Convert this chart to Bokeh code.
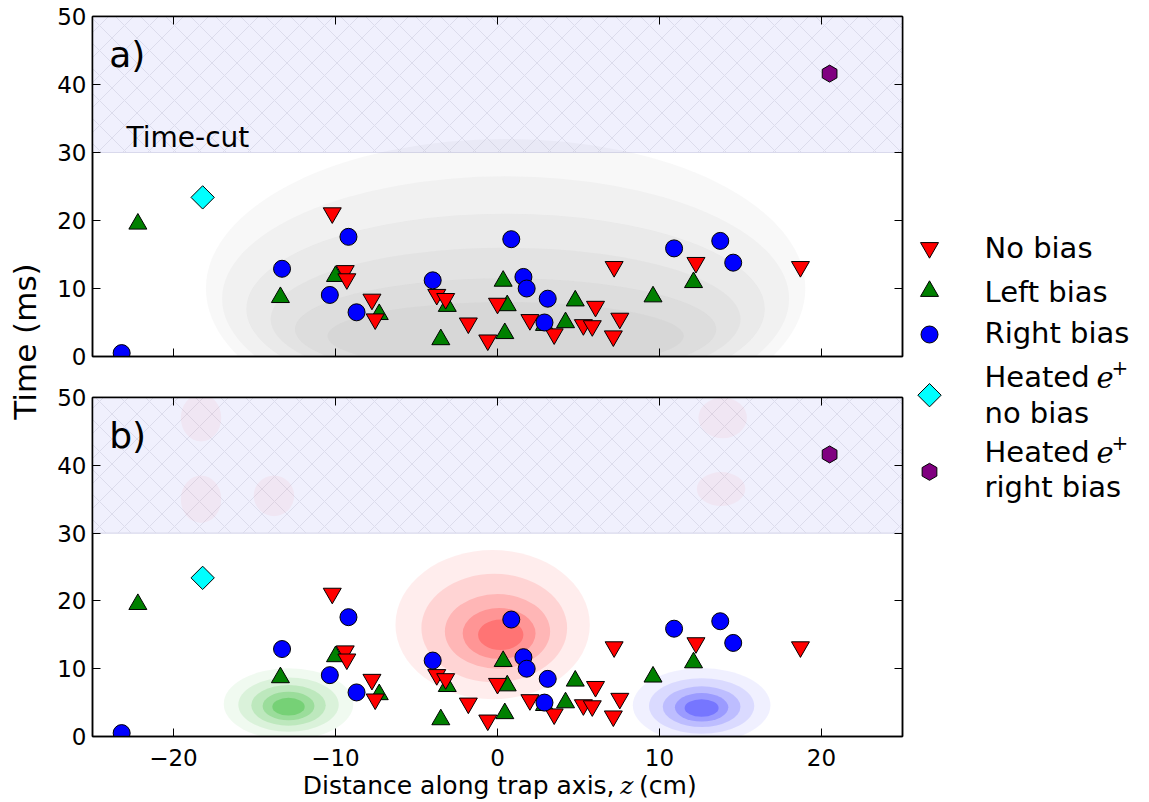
import numpy as np
from bokeh.plotting import figure
from bokeh.layouts import row, column
from bokeh.models import Range1d, LinearAxis, FixedTicker
from bokeh.core.properties import value
from bokeh.embed import file_html
from bokeh.resources import INLINE

# ---------------- data ----------------
no_bias_z = [-10.2, -9.4, -9.3, -7.75, -7.55, -3.75, -3.2, -1.8, -0.6, 0.0,
             2.0, 3.5, 5.3, 5.85, 6.05, 7.55, 7.15, 7.2, 12.25, 18.7]
no_bias_t = [21.1, 12.6, 11.4, 8.4, 5.5, 9.1, 8.5, 4.9, 2.4, 7.8,
             5.4, 3.3, 4.65, 4.5, 7.35, 5.6, 3.0, 13.2, 13.8, 13.2]

left_bias_z = [-22.2, -13.4, -10.0, -7.3, -3.1, -3.5, 0.35, 0.6, 0.45, 2.9,
               4.2, 4.8, 9.6, 12.1]
left_bias_t = [19.5, 8.7, 11.8, 6.2, 7.4, 2.5, 11.1, 7.5, 3.4, 4.6,
               5.0, 8.2, 8.8, 10.9]

right_bias_z = [-23.2, -13.3, -10.35, -9.2, -8.7, -4.0, 0.85, 1.6, 1.8, 3.1,
                2.9, 10.9, 13.75, 14.55]
right_bias_t = [0.5, 12.9, 9.05, 17.6, 6.5, 11.2, 17.25, 11.7, 10.0, 8.5,
                5.0, 15.9, 17.0, 13.8]

heated_nobias_z = [-18.2]
heated_nobias_t = [23.4]
heated_right_z = [20.5]
heated_right_t = [41.6]

time_cut = 30.0
z_min, z_max = -25.0, 25.0
t_min, t_max = 0.0, 50.0
x_ticks = [-20, -10, 0, 10, 20]
y_ticks = [0, 10, 20, 30, 40, 50]
x_tick_labels = {-20: "\u221220", -10: "\u221210", 0: "0", 10: "10", 20: "20"}

# simulated distributions, read as nested density contours (centre, extent)
sim_all_z = [0.5, 0.5, 0.5, 0.5, 0.5, 0.5]
sim_all_t = [10.0, 8.5, 7.0, 5.5, 4.0, 3.0]
sim_all_w = [37.0, 35.0, 32.0, 29.0, 26.0, 22.0]
sim_all_h = [44.0, 36.0, 28.0, 21.0, 15.0, 10.0]

sim_none_z = [-0.3, -0.2, 0.0, 0.1, 0.2]
sim_none_t = [16.5, 16.0, 15.5, 15.2, 15.0]
sim_none_w = [12.0, 9.0, 6.5, 4.5, 2.8]
sim_none_h = [22.0, 16.0, 11.0, 7.5, 4.5]

sim_none_late_z = [-18.3, -18.3, -13.8, 13.9, 13.8]
sim_none_late_t = [47.0, 35.0, 35.5, 47.0, 36.5]
sim_none_late_w = [2.5, 2.5, 2.5, 3.0, 3.0]
sim_none_late_h = [7.0, 7.0, 6.0, 6.0, 5.0]

sim_left_z = [-12.9, -12.9, -12.9, -12.9, -12.9]
sim_left_t = [4.8, 4.7, 4.6, 4.5, 4.4]
sim_left_w = [8.0, 6.2, 4.6, 3.2, 2.0]
sim_left_h = [10.5, 8.0, 6.0, 4.2, 2.6]

sim_right_z = [12.6, 12.6, 12.6, 12.6, 12.6]
sim_right_t = [4.6, 4.5, 4.4, 4.3, 4.2]
sim_right_w = [8.5, 6.5, 4.8, 3.3, 2.1]
sim_right_h = [11.0, 8.2, 6.0, 4.2, 2.6]

FONT = "DejaVu Sans"
BL = 0.33   # baseline correction (fraction of font size) for rendered text


def style_axis(ax, show_labels, standoff=6):
    ax.axis_line_color = "black"
    ax.axis_line_width = 1.5
    ax.major_tick_in = 8
    ax.major_tick_out = 0
    ax.major_tick_line_color = "black"
    ax.major_tick_line_width = 1
    ax.minor_tick_line_color = None
    ax.major_label_text_font = FONT
    if show_labels:
        ax.major_label_text_color = "black"
        ax.major_label_text_font_size = "23px"
        ax.major_label_standoff = standoff
    else:
        ax.major_label_text_color = None
        ax.major_label_text_font_size = "1px"
        ax.major_label_standoff = 0
    ax.axis_label = None


def blank_figure(w, h):
    f = figure(width=w, height=h, x_range=Range1d(0, w), y_range=Range1d(0, h),
               output_backend="svg", toolbar_location=None, title=None,
               x_axis_location=None, y_axis_location=None, min_border=0)
    f.grid.visible = False
    f.outline_line_color = None
    return f


def make_panel(height, b_top, b_bottom, show_x, tag, clouds, px_per_ms):
    p = figure(width=858, height=height, title=None,
               x_range=Range1d(z_min, z_max), y_range=Range1d(t_min, t_max),
               output_backend="svg", toolbar_location=None,
               x_axis_location=None, y_axis_location=None,
               min_border_left=43, min_border_right=5,
               min_border_top=b_top, min_border_bottom=b_bottom)
    p.grid.visible = False
    p.outline_line_color = "black"
    p.outline_line_width = 1.5
    p.background_fill_color = "white"

    xb = LinearAxis(ticker=FixedTicker(ticks=x_ticks))
    style_axis(xb, show_x, standoff=12)
    if show_x:
        xb.major_label_overrides = x_tick_labels
    p.add_layout(xb, "below")
    xt = LinearAxis(ticker=FixedTicker(ticks=x_ticks))
    style_axis(xt, False)
    p.add_layout(xt, "above")
    yl = LinearAxis(ticker=FixedTicker(ticks=y_ticks))
    style_axis(yl, True, standoff=6)
    p.add_layout(yl, "left")
    yr = LinearAxis(ticker=FixedTicker(ticks=y_ticks))
    style_axis(yr, False)
    p.add_layout(yr, "right")

    # time-cut band
    p.quad(left=[z_min], right=[z_max], bottom=[time_cut], top=[t_max],
           fill_color="#f0f0fd", line_color=None,
           hatch_pattern="diagonal_cross", hatch_color="#c8c8da",
           hatch_weight=0.7, hatch_scale=25, hatch_alpha=0.7)
    p.line([z_min, z_max], [time_cut, time_cut], line_color="#d9d9ec", line_width=1.2)

    # simulated clouds (nested contours)
    for (cz, ct, cw, ch, color, alphas) in clouds:
        for i in range(len(cz)):
            p.ellipse(x=[cz[i]], y=[ct[i]], width=[cw[i]], height=[ch[i]],
                      fill_color=color, fill_alpha=alphas[i], line_color=None)

    # measured events
    p.scatter(left_bias_z, left_bias_t, marker="triangle", size=18,
              fill_color="#008000", line_color="black", line_width=1)
    p.scatter(no_bias_z, no_bias_t, marker="inverted_triangle", size=18,
              fill_color="#ff0000", line_color="black", line_width=1)
    p.scatter(right_bias_z, right_bias_t, marker="circle", size=17,
              fill_color="#0000ff", line_color="black", line_width=1)
    p.scatter(heated_nobias_z, heated_nobias_t, marker="square", angle=np.pi / 4,
              size=16.5, fill_color="#00ffff", line_color="black", line_width=1)
    p.scatter(heated_right_z, heated_right_t, marker="hex", angle=np.pi / 2,
              size=17, fill_color="#800080", line_color="black", line_width=1)

    p.text(x=[-23.97], y=[42.7 + BL * 36 / px_per_ms], text=[tag],
           text_font=value(FONT), text_font_size="36px", text_align="left",
           text_baseline="alphabetic", text_color="black")
    return p


clouds_a = [(sim_all_z, sim_all_t, sim_all_w, sim_all_h, "#909090",
             [0.06, 0.06, 0.07, 0.07, 0.07, 0.07])]
clouds_b = [
    (sim_none_late_z, sim_none_late_t, sim_none_late_w, sim_none_late_h, "#ff0000",
     [0.04] * 5),
    (sim_none_z, sim_none_t, sim_none_w, sim_none_h, "#ff0000",
     [0.07, 0.1, 0.14, 0.18, 0.22]),
    (sim_left_z, sim_left_t, sim_left_w, sim_left_h, "#00aa00",
     [0.06, 0.09, 0.13, 0.18, 0.24]),
    (sim_right_z, sim_right_t, sim_right_w, sim_right_h, "#0000ff",
     [0.06, 0.09, 0.13, 0.18, 0.24]),
]

H = 800            # total canvas height; canvases start at page (1, 1)
PA_H, PB_H = 376, 395

pa = make_panel(PA_H, 16, 20, False, "a)", clouds_a, 6.8)
pa.text(x=[-22.9], y=[30.9 + BL * 28 / 6.8], text=["Time-cut"],
        text_font=value(FONT), text_font_size="28px", text_align="left",
        text_baseline="alphabetic", text_color="black")

pb = make_panel(PB_H, 21, 35, True, "b)", clouds_b, 6.78)

# x-axis label strip (z in italic); strip spans page y 772..801, x 50..908
XL_H = H - PA_H - PB_H
xl = blank_figure(858, XL_H)
xl_base = (801 - 794) + BL * 25
z_center = 566          # page x 616
xl.text(x=[z_center - 13], y=[xl_base], text=["Distance along trap axis,"],
        text_font=value(FONT), text_font_size="25px", text_align="right",
        text_baseline="alphabetic", text_color="black")
xl.text(x=[z_center], y=[xl_base], text=["z"], text_font=value("DejaVu Serif"),
        text_font_style="italic", text_font_size="25px", text_align="center",
        text_baseline="alphabetic", text_color="black")
xl.text(x=[z_center + 13], y=[xl_base], text=["(cm)"], text_font=value(FONT),
        text_font_size="25px", text_align="left",
        text_baseline="alphabetic", text_color="black")

# y-axis label column
lab = blank_figure(49, H)
lab.text(x=[35 - BL * 31], y=[801 - 342], text=["Time (ms)"], angle=np.pi / 2,
         text_font=value(FONT), text_font_size="31px", text_align="center",
         text_baseline="alphabetic", text_color="black")

# legend column
leg = blank_figure(233, H)


def Y(py):
    return 801 - py


mx = 22
leg.scatter([mx], [Y(248.3)], marker="inverted_triangle", size=18,
            fill_color="#ff0000", line_color="black", line_width=1)
leg.scatter([mx], [Y(291.7)], marker="triangle", size=18,
            fill_color="#008000", line_color="black", line_width=1)
leg.scatter([mx], [Y(335)], marker="circle", size=17,
            fill_color="#0000ff", line_color="black", line_width=1)
leg.scatter([mx], [Y(395.7)], marker="square", angle=np.pi / 4, size=16.5,
            fill_color="#00ffff", line_color="black", line_width=1)
leg.scatter([mx], [Y(472.3)], marker="hex", angle=np.pi / 2, size=17,
            fill_color="#800080", line_color="black", line_width=1)

tx = 77
leg_texts = [("No bias", 258.3), ("Left bias", 301.7), ("Right bias", 343.3),
             ("Heated", 386.7), ("no bias", 423.3), ("Heated", 461.7),
             ("right bias", 496.7)]
leg.text(x=[tx] * len(leg_texts), y=[Y(b) + BL * 29 for _, b in leg_texts],
         text=[s for s, _ in leg_texts], text_font=value(FONT),
         text_font_size="29px", text_align="left", text_baseline="alphabetic",
         text_color="black")
for b in (386.7, 461.7):
    leg.text(x=[189], y=[Y(b) + BL * 29], text=["e"], text_font=value("DejaVu Serif"),
             text_font_style="italic", text_font_size="29px", text_align="left",
             text_baseline="alphabetic", text_color="black")
    leg.text(x=[204], y=[Y(b) + 12 + BL * 20], text=["+"],
             text_font=value("DejaVu Serif"), text_font_size="20px",
             text_align="left", text_baseline="alphabetic", text_color="black")

layout = row(lab, column(pa, pb, xl), leg)

open("out.html", "w").write(file_html(layout, INLINE, "Time vs z"))
